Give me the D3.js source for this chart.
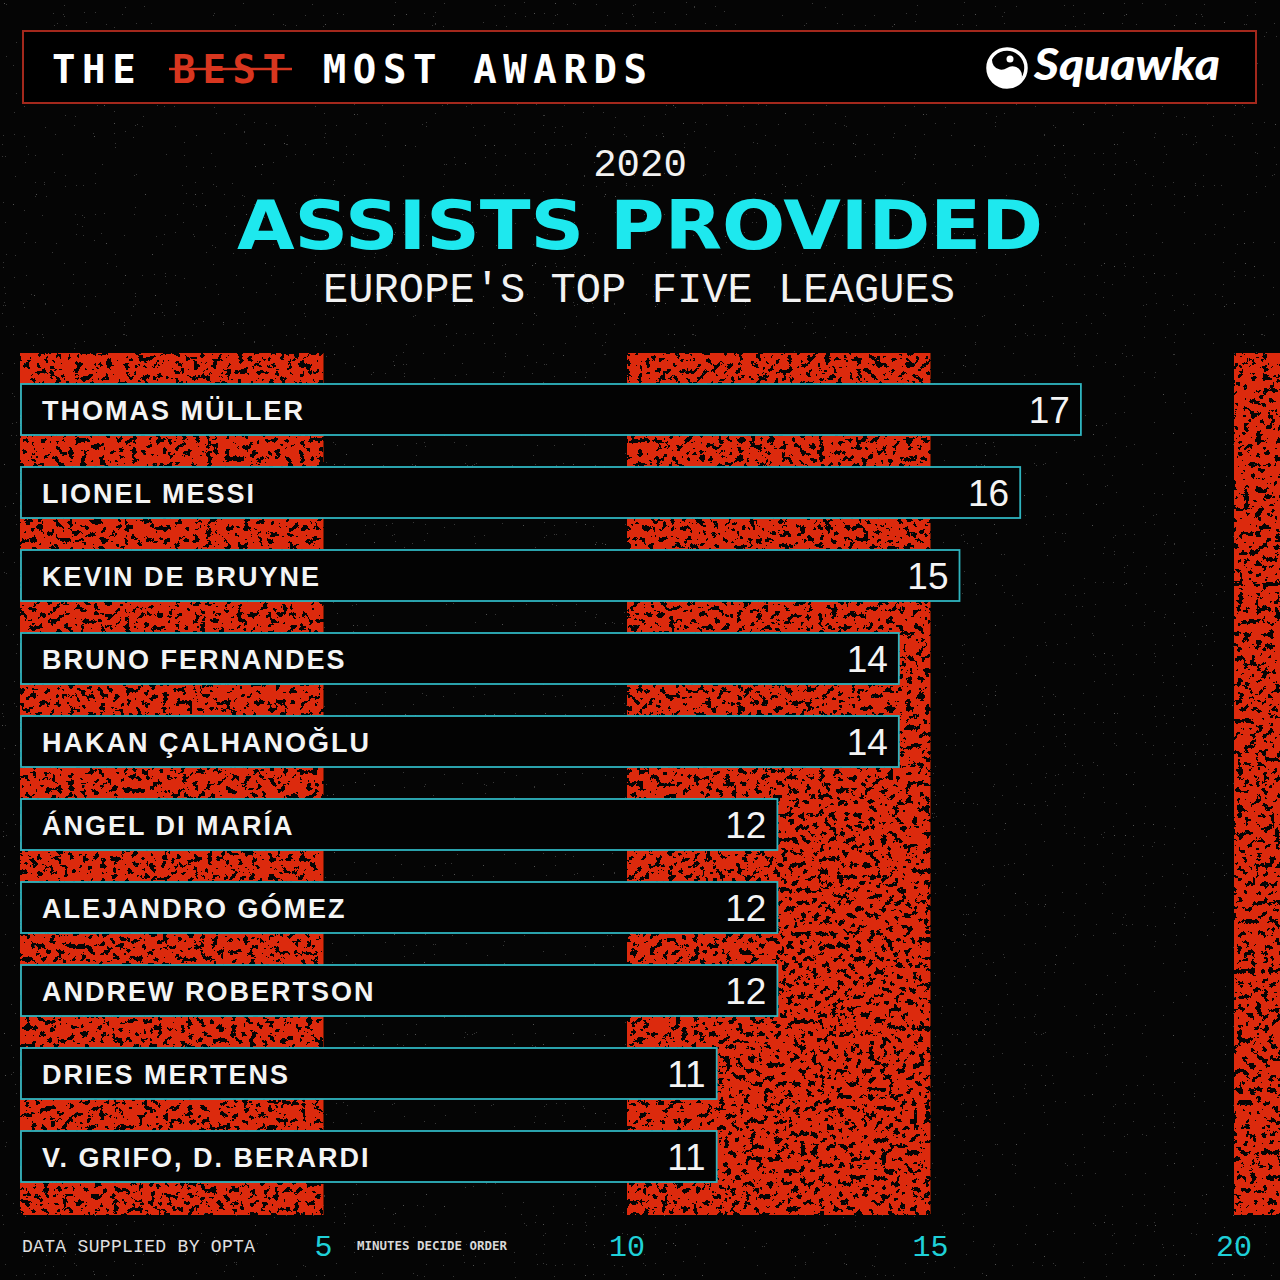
<!DOCTYPE html>
<html lang="en">
<head>
    <meta charset="UTF-8">
    <title>Assists Provided 2020</title>
    <script src="https://d3js.org/d3.v7.min.js"></script>
    <style>
        body {
            margin: 0;
            padding: 0;
            background-color: #050505;
        }
        svg { display: block; }
    </style>
</head>
<body>
    <svg id="chart" width="1280" height="1280"></svg>

    <script>
        // chart data
        const players = [
            "THOMAS MÜLLER", "LIONEL MESSI", "KEVIN DE BRUYNE", "BRUNO FERNANDES",
            "HAKAN ÇALHANOĞLU", "ÁNGEL DI MARÍA", "ALEJANDRO GÓMEZ", "ANDREW ROBERTSON",
            "DRIES MERTENS", "V. GRIFO, D. BERARDI"
        ];
        const assists = [17, 16, 15, 14, 14, 12, 12, 12, 11, 11];
        const tickValues = [5, 10, 15, 20];
        const bandRanges = [[0, 5], [10, 15], [20, 25]];

        const W = 1280, H = 1280;
        const svg = d3.select("#chart");
        const defs = svg.append("defs");

        // red grunge texture for the background bands
        const grunge = defs.append("filter")
            .attr("id", "grunge")
            .attr("x", 0).attr("y", 0).attr("width", 1).attr("height", 1);
        grunge.append("feTurbulence")
            .attr("type", "fractalNoise")
            .attr("baseFrequency", 0.16)
            .attr("numOctaves", 5)
            .attr("seed", 11)
            .attr("result", "noise");
        grunge.append("feColorMatrix")
            .attr("in", "noise")
            .attr("type", "matrix")
            .attr("values", "0 0 0 0 0  0 0 0 0 0  0 0 0 0 0  1 0 0 0 0")
            .attr("result", "alpha");
        grunge.append("feComponentTransfer")
            .attr("in", "alpha")
            .attr("result", "mask")
            .append("feFuncA")
            .attr("type", "discrete")
            .attr("tableValues", "0 0 0 0 0 0 0 0 1 1 1 1 1 1 1 1 1 1 1 1");
        grunge.append("feComposite")
            .attr("in", "SourceGraphic")
            .attr("in2", "mask")
            .attr("operator", "in");

        // faint dust speckles over the black background
        const dust = defs.append("filter")
            .attr("id", "dust")
            .attr("x", 0).attr("y", 0).attr("width", 1).attr("height", 1);
        dust.append("feTurbulence")
            .attr("type", "fractalNoise")
            .attr("baseFrequency", 0.9)
            .attr("numOctaves", 1)
            .attr("seed", 4)
            .attr("result", "noise");
        dust.append("feColorMatrix")
            .attr("in", "noise")
            .attr("type", "matrix")
            .attr("values", "0 0 0 0 1  0 0 0 0 1  0 0 0 0 1  1 0 0 0 0")
            .attr("result", "a");
        dust.append("feComponentTransfer")
            .attr("in", "a")
            .append("feFuncA")
            .attr("type", "discrete")
            .attr("tableValues", "0 0 0 0 0 0 0 0 0 0 0 0 0 0 0 0.2 0.3 0.4 0.45 0.45");

        svg.append("rect")
            .attr("width", W).attr("height", H)
            .attr("fill", "#050505");
        svg.append("rect")
            .attr("width", W).attr("height", H)
            .attr("fill", "#fff")
            .attr("filter", "url(#dust)");

        // scales
        const x = d3.scaleLinear().domain([0, 20]).range([20, 1234]);
        const y = d3.scaleBand()
            .domain(players)
            .range([368, 1198])
            .paddingInner(0.3855)
            .paddingOuter(0.19277);

        // header
        svg.append("rect")
            .attr("x", 23).attr("y", 31)
            .attr("width", 1233).attr("height", 72)
            .attr("fill", "#000")
            .attr("stroke", "#a3281c")
            .attr("stroke-width", 2);

        const header = svg.append("text")
            .attr("x", 52).attr("y", 83)
            .attr("font-family", "DejaVu Sans Mono")
            .attr("font-weight", "bold")
            .attr("font-size", 39)
            .attr("letter-spacing", 6.6)
            .attr("fill", "#fff");
        header.append("tspan").text("THE ");
        header.append("tspan").attr("fill", "#d8361f").text("BEST");
        header.append("tspan").text(" MOST AWARDS");

        svg.append("line")
            .attr("x1", 169).attr("x2", 292)
            .attr("y1", 69).attr("y2", 69)
            .attr("stroke", "#d8361f")
            .attr("stroke-width", 2.5);

        // logo
        const logo = svg.append("g").attr("transform", "translate(1007,68)");
        logo.append("circle")
            .attr("r", 19)
            .attr("fill", "none")
            .attr("stroke", "#fff")
            .attr("stroke-width", 3.5);
        logo.append("path")
            .attr("d", "M0,-19 A9.5,9.5 0 0 0 0,0 A9.5,9.5 0 0 1 0,19 A19,19 0 0 1 0,-19 Z")
            .attr("transform", "rotate(-35)")
            .attr("fill", "#fff");
        logo.append("circle")
            .attr("cx", 3).attr("cy", -9)
            .attr("r", 3.5)
            .attr("fill", "#fff");
        svg.append("text")
            .attr("x", 1034).attr("y", 80)
            .attr("font-family", "Lato")
            .attr("font-style", "italic")
            .attr("font-weight", 900)
            .attr("font-size", 44)
            .attr("textLength", 186)
            .attr("lengthAdjust", "spacingAndGlyphs")
            .attr("fill", "#fff")
            .text("Squawka");

        // titles
        svg.append("text")
            .attr("x", 640).attr("y", 176)
            .attr("text-anchor", "middle")
            .attr("font-family", "Liberation Mono")
            .attr("font-size", 39)
            .attr("fill", "#f2f2f2")
            .text("2020");

        svg.append("text")
            .attr("x", 237).attr("y", 249)
            .attr("font-family", "DejaVu Sans")
            .attr("font-weight", "bold")
            .attr("font-size", 67)
            .attr("textLength", 806)
            .attr("lengthAdjust", "spacingAndGlyphs")
            .attr("fill", "#1ee8ee")
            .text("ASSISTS PROVIDED");

        svg.append("text")
            .attr("x", 323).attr("y", 302)
            .attr("font-family", "Liberation Mono")
            .attr("font-size", 42)
            .attr("textLength", 632)
            .attr("fill", "#f2f2f2")
            .text("EUROPE'S TOP FIVE LEAGUES");

        // red texture bands
        svg.append("g")
            .selectAll("rect")
            .data(bandRanges)
            .join("rect")
            .attr("x", d => x(d[0]))
            .attr("y", 353)
            .attr("width", d => x(d[1]) - x(d[0]))
            .attr("height", 862)
            .attr("fill", "#dc2a0c")
            .attr("filter", "url(#grunge)");

        // bars
        const barExtra = 29;
        const bars = svg.append("g")
            .selectAll("g")
            .data(players.map((p, i) => ({ name: p, value: assists[i] })))
            .join("g")
            .attr("transform", d => `translate(0,${y(d.name)})`);

        bars.append("rect")
            .attr("x", x(0) + 1)
            .attr("y", 0)
            .attr("width", d => x(d.value) + barExtra - x(0) - 1)
            .attr("height", y.bandwidth())
            .attr("fill", "#030303")
            .attr("stroke", "#2fb4bf")
            .attr("stroke-width", 1.8);

        bars.append("text")
            .attr("x", 42)
            .attr("y", 36)
            .attr("font-family", "Liberation Sans")
            .attr("font-weight", "bold")
            .attr("font-size", 27)
            .attr("letter-spacing", 2)
            .attr("fill", "#f4f4f4")
            .text(d => d.name);

        bars.append("text")
            .attr("x", d => x(d.value) + barExtra - 11)
            .attr("y", 39)
            .attr("text-anchor", "end")
            .attr("font-family", "Liberation Sans")
            .attr("font-size", 37)
            .attr("fill", "#f4f4f4")
            .text(d => d.value);

        // axis tick labels
        svg.append("g")
            .selectAll("text")
            .data(tickValues)
            .join("text")
            .attr("x", d => x(d))
            .attr("y", 1256)
            .attr("text-anchor", "middle")
            .attr("font-family", "Liberation Mono")
            .attr("font-size", 30)
            .attr("fill", "#1fd0d8")
            .text(d => d);

        // footer notes
        svg.append("text")
            .attr("x", 22).attr("y", 1252)
            .attr("font-family", "Liberation Mono")
            .attr("font-size", 18)
            .attr("textLength", 233)
            .attr("fill", "#e0e0e0")
            .text("DATA SUPPLIED BY OPTA");

        svg.append("text")
            .attr("x", 357).attr("y", 1250)
            .attr("font-family", "DejaVu Sans Mono")
            .attr("font-weight", "bold")
            .attr("font-size", 12)
            .attr("textLength", 150)
            .attr("lengthAdjust", "spacingAndGlyphs")
            .attr("fill", "#d8d8d8")
            .text("MINUTES DECIDE ORDER");
    </script>
</body>
</html>
